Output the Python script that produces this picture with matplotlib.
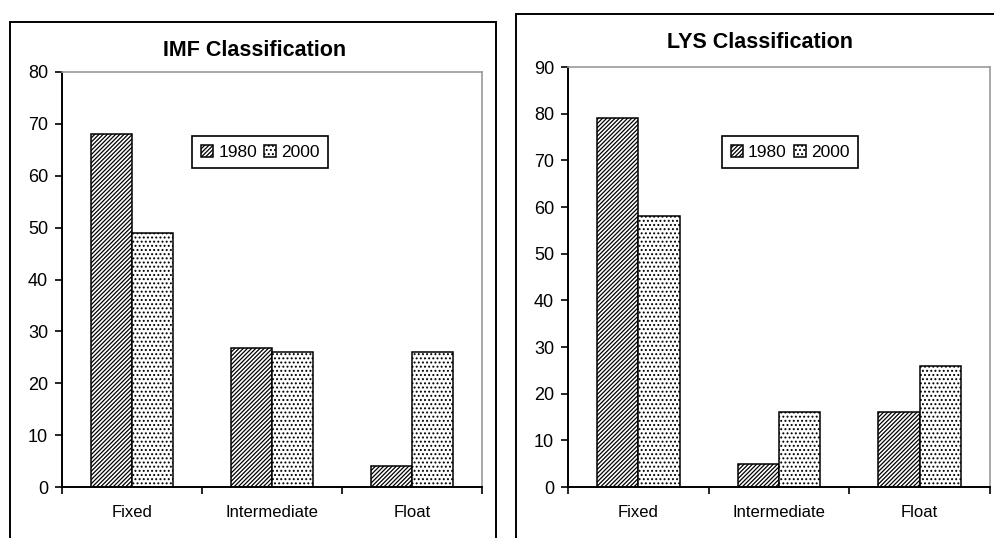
import numpy as np
import matplotlib
matplotlib.use("Agg")
from matplotlib import pyplot as plt
from matplotlib.patches import Rectangle
from matplotlib.ticker import FixedLocator

plt.rcParams['font.family'] = ['Liberation Sans', 'DejaVu Sans']
plt.rcParams['hatch.linewidth'] = 0.9

categories = ['Fixed', 'Intermediate', 'Float']
years = ['1980', '2000']

imf_1980 = [68, 26.8, 4]
imf_2000 = [49, 26, 26]

lys_1980 = [79, 5, 16]
lys_2000 = [58, 16, 26]

W, H = 994, 538
fig = plt.figure(figsize=(W / 100, H / 100), dpi=100)


def px_x(x):
	return x / W


def px_y(y):
	return 1 - y / H


# outer frames of the two chart objects
fig.add_artist(Rectangle((px_x(10), -0.05), px_x(496 - 10), px_y(22) + 0.05,
	transform=fig.transFigure, fill=False, edgecolor='black', linewidth=1.4))
fig.add_artist(Rectangle((px_x(516), -0.05), 0.6, px_y(14) + 0.05,
	transform=fig.transFigure, fill=False, edgecolor='black', linewidth=1.4))


def Draw_Panel(rect, v1980, v2000, ymax, title, title_xy, leg_anchor):
	ax = fig.add_axes(rect)
	x = np.arange(len(categories))
	w = 0.293
	ax.bar(x - w / 2, v1980, width=w, color='white', edgecolor='black',
		hatch='////////', linewidth=1.1, label=years[0])
	ax.bar(x + w / 2, v2000, width=w, color='white', edgecolor='black',
		hatch='....', linewidth=1.1, label=years[1])

	ax.set_xlim(-0.5, len(categories) - 0.5)
	ax.set_ylim(0, ymax)
	ax.set_yticks(np.arange(0, ymax + 1, 10))

	ax.set_xticks(x)
	ax.set_xticklabels(categories, fontsize=12)
	ax.xaxis.set_minor_locator(FixedLocator(np.arange(-0.5, len(categories), 1)))
	ax.tick_params(axis='x', which='major', length=0, pad=13)
	ax.tick_params(axis='x', which='minor', length=5, width=1.2, direction='out')
	ax.tick_params(axis='y', length=5, width=1.2, direction='out', pad=5, labelsize=13)

	for s in ['left', 'bottom']:
		ax.spines[s].set_color('black')
		ax.spines[s].set_linewidth(1.4)
	for s in ['top', 'right']:
		ax.spines[s].set_color('#9a9a9a')
		ax.spines[s].set_linewidth(1.2)

	leg = ax.legend(loc='upper left', bbox_to_anchor=leg_anchor, ncol=2,
		fancybox=False, framealpha=1, edgecolor='black', fontsize=12.5,
		handlelength=0.7, handleheight=0.7, handletextpad=0.3,
		columnspacing=0.4, borderpad=0.5, borderaxespad=0)
	leg.get_frame().set_linewidth(1.2)

	fig.text(px_x(title_xy[0]), px_y(title_xy[1]), title, ha='center', va='center',
		fontsize=15.5, fontweight='bold')
	return ax


Draw_Panel([px_x(62), px_y(487), px_x(482 - 62), (487 - 72) / H],
	imf_1980, imf_2000, 80, 'IMF Classification', (255, 50), (0.31, 0.846))

Draw_Panel([px_x(568), px_y(487), px_x(990 - 568), (487 - 67) / H],
	lys_1980, lys_2000, 90, 'LYS Classification', (760, 43), (0.365, 0.836))

plt.savefig('out.png', dpi=100)
